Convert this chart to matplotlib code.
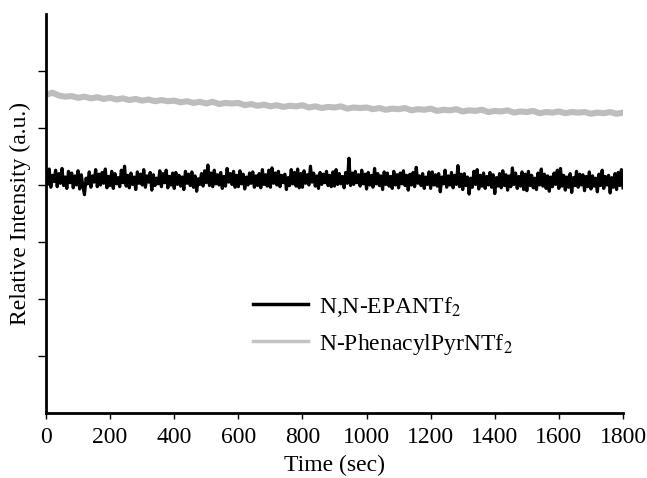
import numpy as np
import matplotlib.pyplot as plt

plt.rcParams['font.family'] = ['Liberation Serif', 'DejaVu Serif']
plt.rcParams['mathtext.fontset'] = 'stix'

# time axis for each trace (seconds)
time_epa = np.arange(0, 1801, 5)
time_phen = np.arange(0, 1801, 20)

# N,N-EPANTf2 intensity, read every 5 s (one row = 100 s)
epa_intensity = [
    4.23, 4.01, 4.28, 3.96, 4.17, 4.06, 4.26, 3.97, 4.20, 4.03, 4.29, 3.99, 4.14, 3.94, 4.24, 4.04, 4.21, 3.95, 4.16, 4.00,
    4.25, 3.93, 4.18, 3.98, 3.83, 4.12, 4.02, 4.23, 3.96, 4.16, 4.05, 4.27, 3.97, 4.19, 4.00, 4.22, 4.03, 4.28, 3.95, 4.15,
    3.99, 4.24, 3.94, 4.20, 4.02, 4.13, 3.97, 4.26, 4.04, 4.33, 3.98, 4.17, 3.95, 4.21, 4.01, 4.14, 3.92, 4.23, 4.03, 4.19,
    4.00, 4.27, 3.96, 4.16, 4.05, 4.22, 3.91, 4.18, 3.99, 4.12, 4.02, 4.25, 3.97, 4.20, 4.04, 4.26, 3.95, 4.15, 4.00, 4.21,
    3.94, 4.22, 4.01, 4.17, 3.98, 4.14, 3.92, 4.24, 4.03, 4.19, 3.99, 4.23, 3.96, 4.16, 3.89, 4.11, 4.01, 4.20, 3.98, 4.25,
    4.04, 4.35, 3.99, 4.21, 3.97, 4.26, 4.02, 4.18, 4.00, 4.22, 3.94, 4.15, 3.98, 4.29, 4.05, 4.20, 4.01, 4.24, 3.96, 4.17,
    3.97, 4.25, 4.02, 4.19, 3.93, 4.14, 4.00, 4.21, 4.03, 4.23, 3.96, 4.16, 3.99, 4.20, 3.95, 4.27, 4.01, 4.18, 3.98, 4.26,
    3.96, 4.30, 4.03, 4.21, 4.00, 4.24, 3.97, 4.17, 4.04, 4.19, 3.92, 4.13, 3.99, 4.27, 4.02, 4.22, 3.98, 4.28, 3.95, 4.20,
    3.96, 4.25, 4.03, 4.18, 4.00, 4.33, 4.05, 4.21, 3.98, 4.16, 3.94, 4.22, 4.01, 4.19, 4.04, 4.24, 3.99, 4.17, 3.97, 4.23,
    3.98, 4.27, 4.01, 4.20, 4.02, 4.15, 3.95, 4.22, 4.03, 4.47, 3.99, 4.21, 4.01, 4.24, 4.04, 4.18, 3.98, 4.26, 4.02, 4.19,
    3.93, 4.22, 4.00, 4.17, 3.96, 4.29, 4.02, 4.20, 3.99, 4.16, 3.92, 4.23, 4.01, 4.21, 3.98, 4.15, 3.94, 4.24, 4.00, 4.18,
    3.95, 4.21, 4.02, 4.25, 3.99, 4.17, 3.91, 4.19, 4.00, 4.22, 3.97, 4.31, 4.03, 4.16, 3.99, 4.20, 3.94, 4.14, 4.01, 4.23,
    3.94, 4.23, 4.00, 4.18, 3.98, 4.20, 3.88, 4.14, 4.02, 4.26, 3.96, 4.16, 4.00, 4.22, 3.95, 4.17, 4.01, 4.34, 3.97, 4.19,
    3.92, 4.20, 3.99, 4.14, 3.84, 4.12, 3.96, 4.24, 4.01, 4.27, 3.93, 4.17, 3.98, 4.21, 3.94, 4.15, 4.00, 4.22, 3.96, 4.18,
    3.85, 4.13, 3.98, 4.20, 3.95, 4.25, 3.99, 4.18, 3.91, 4.16, 3.97, 4.30, 4.01, 4.21, 3.94, 4.15, 3.98, 4.23, 3.92, 4.19,
    3.90, 4.24, 3.99, 4.17, 3.95, 4.12, 3.92, 4.21, 4.00, 4.28, 3.98, 4.19, 3.94, 4.16, 3.89, 4.14, 3.97, 4.21, 4.01, 4.26,
    3.94, 4.29, 3.98, 4.17, 3.91, 4.14, 3.96, 4.20, 3.87, 4.13, 3.99, 4.24, 3.96, 4.19, 4.00, 4.18, 3.90, 4.15, 3.97, 4.23,
    3.93, 4.16, 3.98, 4.12, 3.88, 4.19, 3.99, 4.26, 3.94, 4.15, 4.00, 4.17, 3.86, 4.13, 3.96, 4.20, 3.92, 4.22, 3.99, 4.27,
    3.95,
]

# N-PhenacylPyrNTf2 intensity, read every 20 s
phen_intensity = [
    5.58, 5.62, 5.57, 5.55, 5.56, 5.53, 5.55, 5.52, 5.54, 5.51,
    5.53, 5.50, 5.52, 5.49, 5.51, 5.48, 5.50, 5.47, 5.49, 5.47,
    5.48, 5.45, 5.47, 5.44, 5.46, 5.43, 5.46, 5.42, 5.44, 5.43,
    5.44, 5.40, 5.42, 5.39, 5.41, 5.38, 5.40, 5.37, 5.39, 5.38,
    5.40, 5.36, 5.38, 5.35, 5.37, 5.36, 5.38, 5.34, 5.36, 5.35,
    5.36, 5.33, 5.35, 5.32, 5.34, 5.33, 5.35, 5.31, 5.33, 5.32,
    5.34, 5.30, 5.32, 5.31, 5.33, 5.29, 5.31, 5.30, 5.32, 5.28,
    5.30, 5.29, 5.31, 5.27, 5.29, 5.28, 5.30, 5.26, 5.28, 5.27,
    5.29, 5.26, 5.28, 5.27, 5.28, 5.25, 5.27, 5.26, 5.28, 5.25,
    5.27,
]

labels = ['N,N-EPANTf$_2$', 'N-PhenacylPyrNTf$_2$']
x_ticks = np.arange(0, 1801, 200)

fig = plt.figure(figsize=(6.47, 4.78), dpi=100)
ax = fig.add_axes([0.0711, 0.136, 0.8918, 0.8347])

ax.plot(time_epa, epa_intensity, color='black', lw=2.3, label=labels[0])
ax.plot(time_phen, phen_intensity, color='#bdbdbd', lw=4.4, label=labels[1])

ax.set_xlim(0, 1800)
ax.set_ylim(0, 7)
ax.set_xticks(x_ticks)
ax.set_yticks(np.arange(1, 7))
ax.set_yticklabels([])
ax.tick_params(axis='x', direction='out', length=4, width=1, labelsize=17, pad=6)
ax.tick_params(axis='y', direction='out', length=6, width=1)

for side in ['top', 'right']:
    ax.spines[side].set_visible(False)
for side in ['left', 'bottom']:
    ax.spines[side].set_linewidth(2)

ax.set_xlabel('Time (sec)', fontsize=17, labelpad=5)
ax.set_ylabel('Relative Intensity (a.u.)', fontsize=17, labelpad=1)

leg = ax.legend(loc='upper left', bbox_to_anchor=(0.322, 0.35), frameon=False,
                fontsize=17, handlelength=2.33, handletextpad=0.45, labelspacing=0.55)
for line in leg.get_lines():
    line.set_linewidth(2.5)
leg.get_lines()[1].set_color('#c4c4c4')

fig.savefig('out.png', dpi=100)
